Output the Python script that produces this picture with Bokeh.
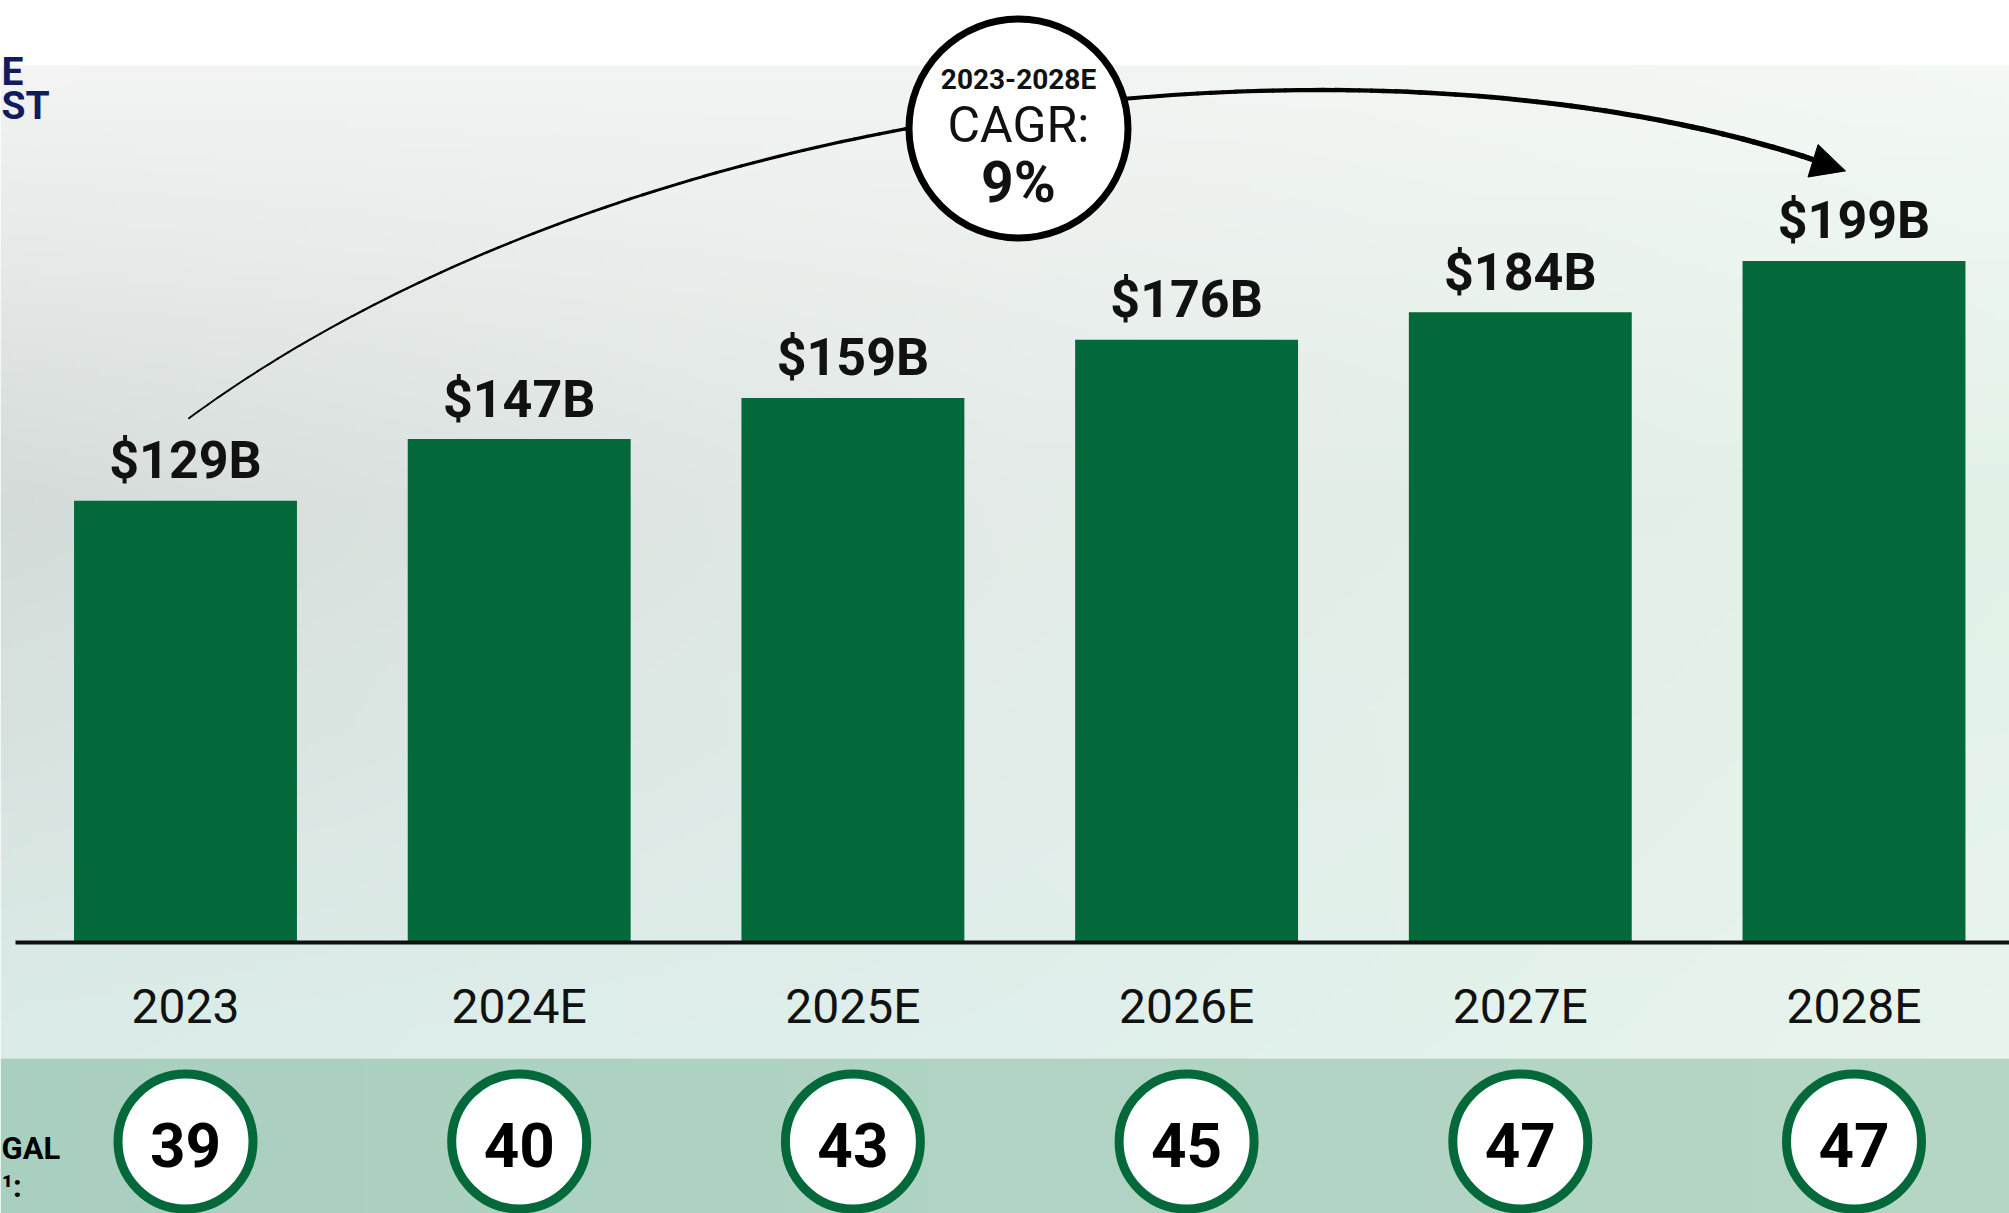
import numpy as np
from bokeh.plotting import figure
from bokeh.models import ColumnDataSource, Range1d, Arrow, NormalHead
from bokeh.core.properties import value
from bokeh.embed import file_html
from bokeh.resources import INLINE

# ---------------- data ----------------
categories = ["2023", "2024E", "2025E", "2026E", "2027E", "2028E"]
revenue_b = [129, 147, 159, 176, 184, 199]
value_labels = ["$129B", "$147B", "$159B", "$176B", "$184B", "$199B"]
legal_states = [39, 40, 43, 45, 47, 47]
cagr_period = "2023-2028E"
cagr_title = "CAGR:"
cagr_value = "9%"
left_label_top = ["E", "ST"]
left_label_bottom = ["GAL", "¹:"]

# ---------------- geometry (page pixels) ----------------
W, H = 2009, 1213
OFF = 0
X0_PX = 185.0      # centre of first category
DX_PX = 333.7      # pixels per category
Y0_PX = 942.0      # value zero (axis line)
K = 3.425          # pixels per $B


def xd(px):
    return (px - X0_PX) / DX_PX


def yd(py):
    return (Y0_PX - py) / K


BAR_GREEN = "#03693A"
TXT = "#111111"
FONT = value("Roboto")

p = figure(width=W, height=H, x_range=Range1d(xd(OFF), xd(OFF + W)),
           y_range=Range1d(yd(OFF + H), yd(OFF)),
           output_backend="svg", toolbar_location=None, min_border=0,
           x_axis_location=None, y_axis_location=None)
p.grid.visible = False
p.outline_line_color = None
p.background_fill_color = "white"
p.border_fill_color = "white"


# ---------------- background ----------------
def hex2rgb(h):
    return np.array([int(h[i:i + 2], 16) for i in (1, 3, 5)], float)


def gradient(grid, row_pos, nx=300, ny=200):
    cg = np.array([[hex2rgb(c) for c in row] for row in grid])
    xs_ = np.linspace(0, 1, nx)
    ys_ = np.linspace(0, 1, ny)
    col_pos = np.linspace(0, 1, cg.shape[1])
    tmp = np.empty((cg.shape[0], nx, 3))
    for r in range(cg.shape[0]):
        for ch in range(3):
            tmp[r, :, ch] = np.interp(xs_, col_pos, cg[r, :, ch])
    out = np.empty((ny, nx, 3))
    for i in range(nx):
        for ch in range(3):
            out[:, i, ch] = np.interp(ys_, row_pos, tmp[:, i, ch])
    img = np.empty((ny, nx), dtype=np.uint32)
    view = img.view(dtype=np.uint8).reshape((ny, nx, 4))
    view[..., :3] = out.round().astype(np.uint8)
    view[..., 3] = 255
    return img[::-1]


PANEL_TOP, PANEL_BOT = 65, 1058
panel = gradient([["#f3f4f3", "#f1f4f2", "#f3f8f4"],
                  ["#d4dbd8", "#e3eae7", "#e2f2e7"],
                  ["#dbece8", "#dfefeb", "#e8f5ed"]],
                 [0, (500 - PANEL_TOP) / (PANEL_BOT - PANEL_TOP), 1])
p.image_rgba(image=[panel], x=xd(OFF), y=yd(PANEL_BOT), dw=xd(OFF + W) - xd(OFF),
             dh=yd(PANEL_TOP) - yd(PANEL_BOT))
band = gradient([["#a9cfc0", "#b0d3c3", "#b6d6c5"],
                 ["#a9cfc0", "#b0d3c3", "#b6d6c5"]], [0, 1], nx=100, ny=4)
p.image_rgba(image=[band], x=xd(OFF), y=yd(OFF + H), dw=xd(OFF + W) - xd(OFF),
             dh=yd(PANEL_BOT) - yd(OFF + H))

# ---------------- bars ----------------
xs = list(range(len(categories)))
src = ColumnDataSource(dict(
    x=xs, top=revenue_b, label=value_labels, cat=categories,
    label_y=[v + 40 / K for v in revenue_b],
    states=[str(s) for s in legal_states],
))
p.vbar(x="x", top="top", bottom=0, width=0.668, source=src,
       fill_color=BAR_GREEN, line_color=None)
p.segment(x0=xd(15), y0=0, x1=xd(OFF + W), y1=0, line_width=4, line_color=TXT)

p.text(x="x", y="label_y", text="label", source=src,
       text_font=FONT, text_font_style="bold", text_font_size="52px",
       text_align="center", text_baseline="middle", text_color=TXT)

p.text(x="x", y=yd(1005.5), text="cat", source=src,
       text_font=FONT, text_font_size="48px",
       text_align="center", text_baseline="middle", text_color=TXT)

# ---------------- bottom circles ----------------
p.scatter(x="x", y=yd(1141), source=src, marker="circle", size=135,
          fill_color="white", line_color=BAR_GREEN, line_width=9)
p.text(x="x", y=yd(1144.5), text="states", source=src,
       text_font=FONT, text_font_style="bold", text_font_size="62px",
       text_align="center", text_baseline="middle", text_color="black")

# side texts (cropped in the source image)
p.text(x=[xd(1), xd(1)], y=[yd(1148), yd(1186)], text=left_label_bottom,
       text_font=FONT, text_font_style="bold", text_font_size="31px",
       text_align="left", text_baseline="middle", text_color="black")
p.text(x=[xd(1), xd(1)], y=[yd(71), yd(105.5)], text=left_label_top,
       text_font=FONT, text_font_style="bold", text_font_size="39px",
       text_align="left", text_baseline="middle", text_color="#101c5e")

# ---------------- CAGR arc ----------------
P = np.array([[188.4, 417.7], [640.7, 86.0], [1409.5, 10.0], [1845.0, 170.4]])
t = np.linspace(0, 0.975, 140)[:, None]
pts = ((1 - t) ** 3) * P[0] + 3 * ((1 - t) ** 2) * t * P[1] + 3 * (1 - t) * t ** 2 * P[2] + t ** 3 * P[3]
cx = xd(pts[:, 0])
cy = yd(pts[:, 1])
widths = np.linspace(1.8, 5.5, len(cx) - 1)
p.segment(x0=cx[:-1], y0=cy[:-1], x1=cx[1:], y1=cy[1:], line_width=widths,
          line_color="black", line_cap="round")
tip = P[3]
p.add_layout(Arrow(end=NormalHead(size=34, fill_color="black", line_color="black", line_width=1),
                   x_start=cx[-8], y_start=cy[-8], x_end=xd(tip[0]), y_end=yd(tip[1]),
                   line_alpha=0))

CAGR_X, CAGR_Y = 1018, 128
p.scatter(x=[xd(CAGR_X)], y=[yd(CAGR_Y)], marker="circle", size=219,
          fill_color="white", line_color="black", line_width=7)
p.text(x=[xd(CAGR_X)], y=[yd(78.5)], text=[cagr_period], text_font=FONT,
       text_font_style="bold", text_font_size="28px", text_align="center",
       text_baseline="middle", text_color=TXT)
p.text(x=[xd(CAGR_X)], y=[yd(124.5)], text=[cagr_title], text_font=FONT,
       text_font_size="50px", text_align="center",
       text_baseline="middle", text_color=TXT)
p.text(x=[xd(CAGR_X)], y=[yd(182)], text=[cagr_value], text_font=FONT,
       text_font_style="bold", text_font_size="57px", text_align="center",
       text_baseline="middle", text_color=TXT)

open("out.html", "w").write(file_html(p, INLINE))
